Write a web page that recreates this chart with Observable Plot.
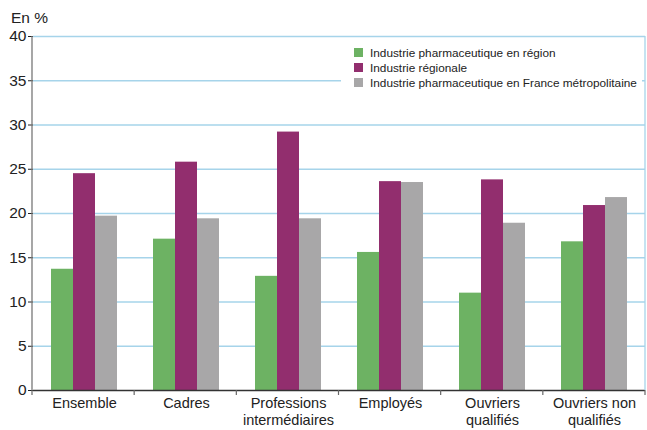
<!DOCTYPE html>
<html>
<head>
<meta charset="utf-8">
<script src="https://cdn.jsdelivr.net/npm/d3@7"></script>
<script src="https://cdn.jsdelivr.net/npm/@observablehq/plot@0.6"></script>
<style>
  body { margin: 0; background: #fff; }
  #chart { width: 647px; height: 430px; }
</style>
</head>
<body>
<div id="chart"></div>
<script>
const categories = ["Ensemble", "Cadres", "Professions\nintermédiaires", "Employés", "Ouvriers\nqualifiés", "Ouvriers non\nqualifiés"];
const seriesNames = ["Industrie pharmaceutique en région", "Industrie régionale", "Industrie pharmaceutique en France métropolitaine"];
const pharmaRegion = [13.7, 17.1, 12.9, 15.6, 11.0, 16.8];
const industrieRegionale = [24.5, 25.8, 29.2, 23.6, 23.8, 20.9];
const pharmaFrance = [19.7, 19.4, 19.4, 23.5, 18.9, 21.8];
const seriesColors = ["#6db263", "#922e6e", "#a8a7a8"];
const yTicks = [0, 5, 10, 15, 20, 25, 30, 35, 40];
const yTitle = "En %";

const seriesValues = [pharmaRegion, industrieRegionale, pharmaFrance];
const rows = categories.flatMap((c, i) => seriesNames.map((s, j) => ({category: c, series: s, value: seriesValues[j][i]})));

const FONT = "'Liberation Sans', Arial, sans-serif";

const plot = Plot.plot({
  width: 647,
  height: 430,
  marginTop: 36,
  marginBottom: 40,
  marginLeft: 32,
  marginRight: 2,
  style: {fontFamily: FONT, fontSize: "15.5px", color: "#222", background: "#fff"},
  fx: {domain: categories, padding: 0, axis: null, label: null},
  x: {domain: seriesNames, axis: null, paddingInner: 0, paddingOuter: 0.72},
  y: {domain: [0, 40], ticks: yTicks, tickSize: 5, tickPadding: 2, label: null},
  color: {domain: seriesNames, range: seriesColors},
  marks: [
    Plot.ruleY(yTicks.filter(d => d > 0), {stroke: "#a6d4ea", strokeWidth: 1.3}),
    Plot.barY(rows, {fx: "category", x: "series", y: "value", fill: "series"}),
    Plot.ruleY([0], {stroke: "#333", strokeWidth: 1.3}),
    Plot.text(categories, {fx: d => d, text: d => d, frameAnchor: "bottom", lineAnchor: "top", dy: 5, lineHeight: 1.2, fontSize: 14.5, fill: "#222"})
  ]
});

document.getElementById("chart").appendChild(plot);

// decorations using the plot's scales
const svg = d3.select(plot);
const fxS = plot.scale("fx");
const yS = plot.scale("y");
const fx = d3.scaleBand().domain(fxS.domain).range(fxS.range).paddingInner(0).paddingOuter(0);
const y = d3.scaleLinear().domain(yS.domain).range(yS.range);
const [x0, x1] = fxS.range;
const g = svg.append("g");
// y axis line
g.append("line").attr("x1", x0).attr("x2", x0).attr("y1", y(40)).attr("y2", y(0)).attr("stroke", "#777").attr("stroke-width", 1.3);
// right frame line
g.append("line").attr("x1", x1).attr("x2", x1).attr("y1", y(40)).attr("y2", y(0)).attr("stroke", "#a6d4ea").attr("stroke-width", 1.3);
// boundary ticks on x axis
const edges = fxS.domain.map(d => fx(d)).concat([x1]);
g.selectAll("line.edge").data(edges).join("line").attr("class", "edge")
  .attr("x1", d => d).attr("x2", d => d).attr("y1", y(0)).attr("y2", y(0) + 5)
  .attr("stroke", "#666").attr("stroke-width", 1.2);
// y title
g.append("text").attr("x", 11).attr("y", 23).attr("text-anchor", "start")
  .attr("font-family", FONT).attr("font-size", 15.5).attr("fill", "#222").text(yTitle);

// legend
const leg = svg.append("g").attr("transform", "translate(341,41)");
leg.append("rect").attr("width", 301).attr("height", 53).attr("fill", "#fff");
seriesNames.forEach((s, i) => {
  leg.append("rect").attr("x", 13).attr("y", 7 + i * 15).attr("width", 9).attr("height", 9).attr("fill", seriesColors[i]);
  leg.append("text").attr("x", 29).attr("y", 16 + i * 15).attr("text-anchor", "start")
    .attr("font-family", FONT).attr("font-size", 11.8).attr("fill", "#222").text(s);
});
</script>
</body>
</html>
